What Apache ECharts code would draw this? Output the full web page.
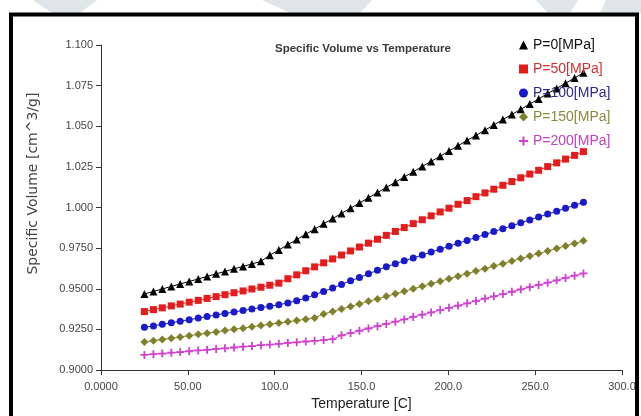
<!DOCTYPE html>
<html>
<head>
<meta charset="utf-8">
<script src="https://cdn.jsdelivr.net/npm/echarts@6/dist/echarts.min.js"></script>
<style>
html,body{margin:0;padding:0;background:#fff;}
#chart{width:641px;height:416px;}
</style>
</head>
<body>
<div id="chart"></div>
<script>
const temps = [25.0, 30.2, 35.3, 40.5, 45.6, 50.8, 56.0, 61.1, 66.3, 71.4, 76.6, 81.8, 86.9, 92.1, 97.2, 102.4, 107.6, 112.7, 117.9, 123.0, 128.2, 133.4, 138.5, 143.7, 148.8, 154.0, 159.2, 164.3, 169.5, 174.6, 179.8, 185.0, 190.1, 195.3, 200.4, 205.6, 210.8, 215.9, 221.1, 226.2, 231.4, 236.6, 241.7, 246.9, 252.0, 257.2, 262.4, 267.5, 272.7, 277.8];

const p0 = [0.9468,0.9484,0.9499,0.9515,0.9530,0.9545,0.9561,0.9576,0.9592,0.9607,0.9623,0.9638,0.9653,0.9669,0.9707,0.9739,0.9772,0.9803,0.9836,0.9867,0.9900,0.9932,0.9964,0.9996,1.0028,1.0060,1.0092,1.0124,1.0156,1.0188,1.0220,1.0253,1.0284,1.0316,1.0348,1.0380,1.0413,1.0444,1.0476,1.0508,1.0541,1.0573,1.0604,1.0637,1.0668,1.0701,1.0733,1.0765,1.0797,1.0829];

const p50 = [0.9360,0.9372,0.9383,0.9395,0.9406,0.9418,0.9429,0.9441,0.9452,0.9464,0.9476,0.9487,0.9499,0.9510,0.9522,0.9535,0.9562,0.9586,0.9611,0.9635,0.9660,0.9684,0.9708,0.9733,0.9757,0.9781,0.9805,0.9829,0.9853,0.9877,0.9901,0.9925,0.9949,0.9973,0.9996,1.0020,1.0043,1.0067,1.0090,1.0113,1.0137,1.0160,1.0183,1.0206,1.0229,1.0252,1.0275,1.0298,1.0321,1.0344];

const p100 = [0.9263,0.9272,0.9282,0.9291,0.9301,0.9310,0.9320,0.9329,0.9339,0.9348,0.9358,0.9367,0.9376,0.9385,0.9393,0.9402,0.9413,0.9427,0.9443,0.9463,0.9484,0.9505,0.9527,0.9549,0.9570,0.9592,0.9614,0.9636,0.9654,0.9672,0.9690,0.9708,0.9726,0.9744,0.9762,0.9780,0.9798,0.9816,0.9834,0.9852,0.9870,0.9888,0.9906,0.9924,0.9942,0.9960,0.9978,0.9996,1.0014,1.0032];

const p150 = [0.9173,0.9181,0.9189,0.9196,0.9204,0.9212,0.9220,0.9227,0.9235,0.9243,0.9251,0.9258,0.9266,0.9274,0.9282,0.9289,0.9297,0.9305,0.9313,0.9321,0.9345,0.9361,0.9376,0.9392,0.9407,0.9423,0.9438,0.9454,0.9469,0.9485,0.9500,0.9516,0.9531,0.9547,0.9562,0.9578,0.9593,0.9609,0.9624,0.9640,0.9655,0.9671,0.9686,0.9702,0.9717,0.9733,0.9748,0.9764,0.9779,0.9795];

const p200 = [0.9093,0.9098,0.9102,0.9107,0.9111,0.9116,0.9121,0.9125,0.9130,0.9134,0.9139,0.9144,0.9148,0.9153,0.9157,0.9162,0.9167,0.9171,0.9176,0.9180,0.9185,0.9190,0.9214,0.9228,0.9242,0.9256,0.9270,0.9284,0.9298,0.9312,0.9327,0.9341,0.9355,0.9369,0.9383,0.9397,0.9411,0.9425,0.9440,0.9454,0.9468,0.9482,0.9496,0.9510,0.9524,0.9538,0.9552,0.9567,0.9581,0.9595];

const seriesNames = ['P=0[MPa]', 'P=50[MPa]', 'P=100[MPa]', 'P=150[MPa]', 'P=200[MPa]'];
const yTickLabels = ['0.9000', '0.9250', '0.9500', '0.9750', '1.000', '1.025', '1.050', '1.075', '1.100'];
const xTickLabels = ['0.0000', '50.00', '100.0', '150.0', '200.0', '250.0', '300.0'];

const chartTitle = 'Specific Volume vs Temperature';
const xName = 'Temperature [C]';
const yName = 'Specific Volume [cm^3/g]';

const plusPath = 'path://M3.5,0H5.5V3.5H9V5.5H5.5V9H3.5V5.5H0V3.5H3.5Z';
const styles = [
  {color: '#000000', text: '#111111', symbol: 'triangle', size: 8},
  {color: '#e41c1c', text: '#d03030', symbol: 'rect', size: 7},
  {color: '#1a1acc', text: '#2a2a8a', symbol: 'circle', size: 7},
  {color: '#80802a', text: '#8a8a40', symbol: 'diamond', size: 8},
  {color: '#d040d0', text: '#c040c0', symbol: plusPath, size: 8}
];
const allValues = [p0, p50, p100, p150, p200];

const chart = echarts.init(document.getElementById('chart'), null, {renderer: 'canvas'});

const font = '"Liberation Sans", Arial, sans-serif';

const option = {
  backgroundColor: '#ffffff',
  animation: false,
  title: {
    text: chartTitle,
    left: 358,
    top: 38,
    textAlign: 'center',
    textStyle: {fontFamily: font, fontSize: 11.5, fontWeight: 'bold', color: '#3a3a3a'}
  },
  legend: {
    orient: 'vertical',
    left: 519,
    top: 37,
    padding: 0,
    itemWidth: 9,
    itemHeight: 9,
    itemGap: 8,
    itemStyle: {borderWidth: 0},
    data: seriesNames.map((n, i) => ({
      name: n,
      icon: styles[i].symbol,
      textStyle: {color: styles[i].text}
    })),
    textStyle: {fontFamily: font, fontSize: 14, lineHeight: 16}
  },
  grid: {left: 101, right: 19, top: 45, bottom: 43.3, containLabel: false},
  xAxis: {
    type: 'value',
    min: 0, max: 300, interval: 50,
    name: xName,
    nameLocation: 'middle',
    nameGap: 25,
    nameTextStyle: {fontFamily: font, fontSize: 14, color: '#222'},
    axisLine: {show: true, onZero: false, lineStyle: {color: '#333', width: 1}},
    axisTick: {show: true, inside: false, length: 5, lineStyle: {color: '#333'}},
    splitLine: {show: false},
    axisLabel: {
      margin: 11, fontFamily: font, fontSize: 11, color: '#444',
      formatter: v => xTickLabels[Math.round(v / 50)]
    }
  },
  yAxis: {
    type: 'value',
    min: 0.9, max: 1.1, interval: 0.025,
    name: yName,
    nameLocation: 'middle',
    nameRotate: 90,
    nameGap: 61,
    nameTextStyle: {fontFamily: '"DejaVu Sans", sans-serif', fontSize: 14, color: '#444', padding: [0, 0, 0, 48]},
    axisLine: {show: true, lineStyle: {color: '#333', width: 1}},
    axisTick: {show: true, inside: false, length: 5, lineStyle: {color: '#333'}},
    splitLine: {show: false},
    axisLabel: {
      margin: 8, fontFamily: font, fontSize: 11, color: '#444',
      formatter: v => yTickLabels[Math.round((v - 0.9) / 0.025)]
    }
  },
  graphic: [
    {type: 'polygon', z: -10, shape: {points: [[33,0],[97,0],[80,13],[52,13]]}, style: {fill: '#dfe6ea'}},
    {type: 'polygon', z: -10, shape: {points: [[262,0],[372,0],[360,13],[290,13]]}, style: {fill: '#dfe6ea'}},
    {type: 'polygon', z: -10, shape: {points: [[536,0],[578,0],[570,13],[548,13]]}, style: {fill: '#dfe6ea'}},
    {type: 'polygon', z: -10, shape: {points: [[606,0],[641,0],[641,13],[600,13]]}, style: {fill: '#dfe6ea'}},
    {type: 'rect', z: 100, shape: {x: 11, y: 14.5, width: 626, height: 430}, style: {fill: 'none', stroke: '#000', lineWidth: 4}}
  ],
  series: allValues.map((vals, i) => ({
    name: seriesNames[i],
    type: 'line',
    data: temps.map((t, k) => [t, vals[k]]),
    symbol: styles[i].symbol,
    symbolSize: styles[i].size,
    showAllSymbol: true,
    color: styles[i].color,
    lineStyle: {width: 1, color: styles[i].color},
    itemStyle: {color: styles[i].color, borderWidth: 0},
    emphasis: {disabled: true}
  }))
};
chart.setOption(option);
</script>
</body>
</html>
